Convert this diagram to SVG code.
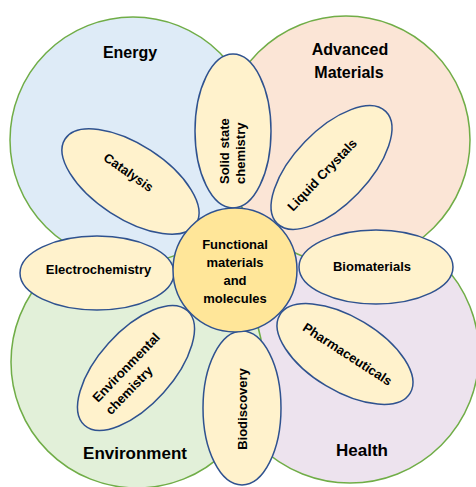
<svg xmlns="http://www.w3.org/2000/svg" width="476" height="487" viewBox="0 0 476 487">
<style>
  .area { stroke: #70AD47; stroke-width: 1.5; }
  .petal { fill: #FFF2CC; stroke: #2F528F; stroke-width: 1.5; }
  .core { fill: #FFE699; stroke: #2F528F; stroke-width: 1.5; }
  .big { font-family: "Liberation Sans", Arial, sans-serif; font-weight: bold; fill: #000; text-anchor: middle; }
  .lbl { font-family: "Liberation Sans", Arial, sans-serif; font-weight: bold; font-size: 13px; fill: #000; text-anchor: middle; }
  .lbs { font-family: "Liberation Sans", Arial, sans-serif; font-weight: bold; font-size: 13px; fill: #000; text-anchor: start; }
</style>
<rect width="476" height="487" fill="#FFFFFF"/>

<g id="area-health">
  <circle class="area" cx="350" cy="354" r="129" fill="#EDE3EE"/>
  <text class="big" x="362" y="456" font-size="17">Health</text>
</g>
<g id="area-environment">
  <circle class="area" cx="137" cy="362" r="126" fill="#E2F0D9"/>
  <text class="big" x="135" y="459" font-size="17">Environment</text>
</g>
<g id="area-energy">
  <circle class="area" cx="133" cy="140" r="123" fill="#DEEBF7"/>
  <text class="big" x="130" y="58" font-size="16">Energy</text>
</g>
<g id="area-advanced-materials">
  <circle class="area" cx="346" cy="140" r="124" fill="#FBE5D6"/>
  <text class="big" x="350" y="55" font-size="16">Advanced</text>
  <text class="big" x="349" y="78" font-size="16">Materials</text>
</g>

<g id="connectors"></g>

<g id="petal-solid-state">
  <ellipse class="petal" cx="233" cy="131" rx="38" ry="77"/>
  <g transform="translate(233,184) rotate(-90)">
    <text class="lbs" x="0" y="-4">Solid state</text>
    <text class="lbs" x="0" y="12">chemistry</text>
  </g>
</g>
<g id="petal-catalysis">
  <ellipse class="petal" cx="0" cy="0" rx="78" ry="37" transform="translate(130.5,181.5) rotate(33)"/>
  <text class="lbl" x="0" y="0" transform="translate(126,176) rotate(35)">Catalysis</text>
</g>
<g id="petal-liquid-crystals">
  <ellipse class="petal" cx="0" cy="0" rx="78" ry="37" transform="translate(331.5,167.5) rotate(-46)"/>
  <text class="lbs" x="0" y="0" transform="translate(293,212) rotate(-46.5)">Liquid Crystals</text>
</g>
<g id="petal-electrochemistry">
  <ellipse class="petal" cx="97" cy="273" rx="77" ry="37"/>
  <text class="lbl" x="98.5" y="274">Electrochemistry</text>
</g>
<g id="petal-biomaterials">
  <ellipse class="petal" cx="376" cy="267" rx="77" ry="37"/>
  <text class="lbl" x="372" y="271">Biomaterials</text>
</g>
<g id="petal-environmental-chemistry">
  <ellipse class="petal" cx="0" cy="0" rx="77" ry="37" transform="translate(136,368) rotate(-48)"/>
  <g transform="translate(98,403) rotate(-46)">
    <text class="lbs" x="0" y="0">Environmental</text>
    <text class="lbs" x="0" y="18">chemistry</text>
  </g>
</g>
<g id="petal-pharmaceuticals">
  <ellipse class="petal" cx="0" cy="0" rx="76" ry="37" transform="translate(345,354) rotate(31)"/>
  <text class="lbl" x="0" y="0" transform="translate(345,358) rotate(33)">Pharmaceuticals</text>
</g>
<g id="petal-biodiscovery">
  <ellipse class="petal" cx="242" cy="408" rx="39" ry="77"/>
  <text class="lbl" x="0" y="0" transform="translate(247,409) rotate(-90)">Biodiscovery</text>
</g>

<g id="core">
  <circle class="core" cx="235" cy="270" r="62"/>
  <text class="lbl" x="235" y="248.5">Functional</text>
  <text class="lbl" x="235" y="266.8">materials</text>
  <text class="lbl" x="235" y="285.1">and</text>
  <text class="lbl" x="235" y="303.4">molecules</text>
</g>
</svg>
